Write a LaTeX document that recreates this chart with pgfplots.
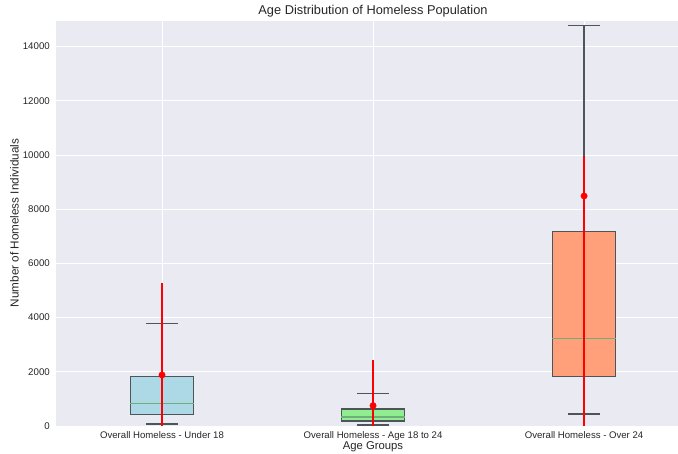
\documentclass[border=0pt]{standalone}
\usepackage{pgfplots}
\pgfplotsset{compat=1.18}
\usepgfplotslibrary{statistics}
\usepackage{fontspec}
\setmainfont{Liberation Sans}
\definecolor{bg}{HTML}{EAEAF2}
\definecolor{tc}{HTML}{262626}
\definecolor{edge}{HTML}{4E5558}
\definecolor{medc}{HTML}{6FAE7A}
\definecolor{cblue}{HTML}{ADD8E6}
\definecolor{cgreen}{HTML}{90EE90}
\definecolor{csalmon}{HTML}{FFA07A}
\begin{document}
\begin{tikzpicture}
\begin{axis}[
  at={(0pt,0pt)}, anchor=south west, scale only axis,
  width=621.5pt, height=405.3pt,
  xmin=0.5, xmax=3.445, ymin=0, ymax=14955,
  axis background/.style={fill=bg},
  axis line style={draw=none},
  xmajorgrids, ymajorgrids,
  major grid style={white, line width=0.9pt},
  xtick={1,2,3},
  xticklabels={Overall Homeless - Under 18, Overall Homeless - Age 18 to 24, Overall Homeless - Over 24},
  ytick={0,2000,4000,6000,8000,10000,12000,14000},
  major tick length=0pt,
  scaled y ticks=false,
  /pgf/number format/assume math mode=true,
  /pgf/number format/1000 sep={},
  yticklabel style={anchor=east, inner sep=0pt, xshift=-6.5pt, font=\fontsize{9.7}{11}\selectfont, text=tc},
  xticklabel style={anchor=north, inner sep=0pt, yshift=-5pt, font=\fontsize{9.6}{11}\selectfont, text=tc},
  boxplot/draw direction=y,
  boxplot/every box/.style={draw=edge, line width=1.3pt},
  boxplot/every whisker/.style={draw=edge, line width=1.3pt},
  boxplot/every median/.style={draw=medc, line width=1.2pt},
]
\addplot+[fill=cblue, draw=edge, mark=none, boxplot prepared={draw position=1,
  lower whisker=74, lower quartile=432, median=823, upper quartile=1819, upper whisker=3775,
  box extend=0.3, whisker extend=0.15}] coordinates {};
\addplot+[fill=cgreen, draw=edge, mark=none, boxplot prepared={draw position=2,
  lower whisker=37, lower quartile=185, median=330, upper quartile=627, upper whisker=1207,
  box extend=0.3, whisker extend=0.15}] coordinates {};
\addplot+[fill=csalmon, draw=edge, mark=none, boxplot prepared={draw position=3,
  lower whisker=443, lower quartile=1834, median=3236, upper quartile=7184, upper whisker=14771,
  box extend=0.3, whisker extend=0.15}] coordinates {};
\addplot[only marks, mark=*, red, mark size=3.2pt,
  error bars/.cd, y dir=both, y explicit, error mark=none,
  error bar style={line width=2pt, red}]
  coordinates {
    (1,1882) += (0,3406) -= (0,3406)
    (2,750) += (0,1685) -= (0,1685)
    (3,8487) += (0,1487) -= (0,9500)
  };
\end{axis}
\node[text=tc, font=\fontsize{12.8}{15}\selectfont] at (316.5pt,415pt) {Age Distribution of Homeless Population};
\node[text=tc, font=\fontsize{11.3}{13}\selectfont] at (316.5pt,-21pt) {Age Groups};
\node[text=tc, font=\fontsize{11.7}{13}\selectfont, rotate=90] at (-42pt,203pt) {Number of Homeless Individuals};
\pgfresetboundingbox
\useasboundingbox (-56.5pt,-28pt) rectangle (621.5pt,426pt);
\end{tikzpicture}
\end{document}
